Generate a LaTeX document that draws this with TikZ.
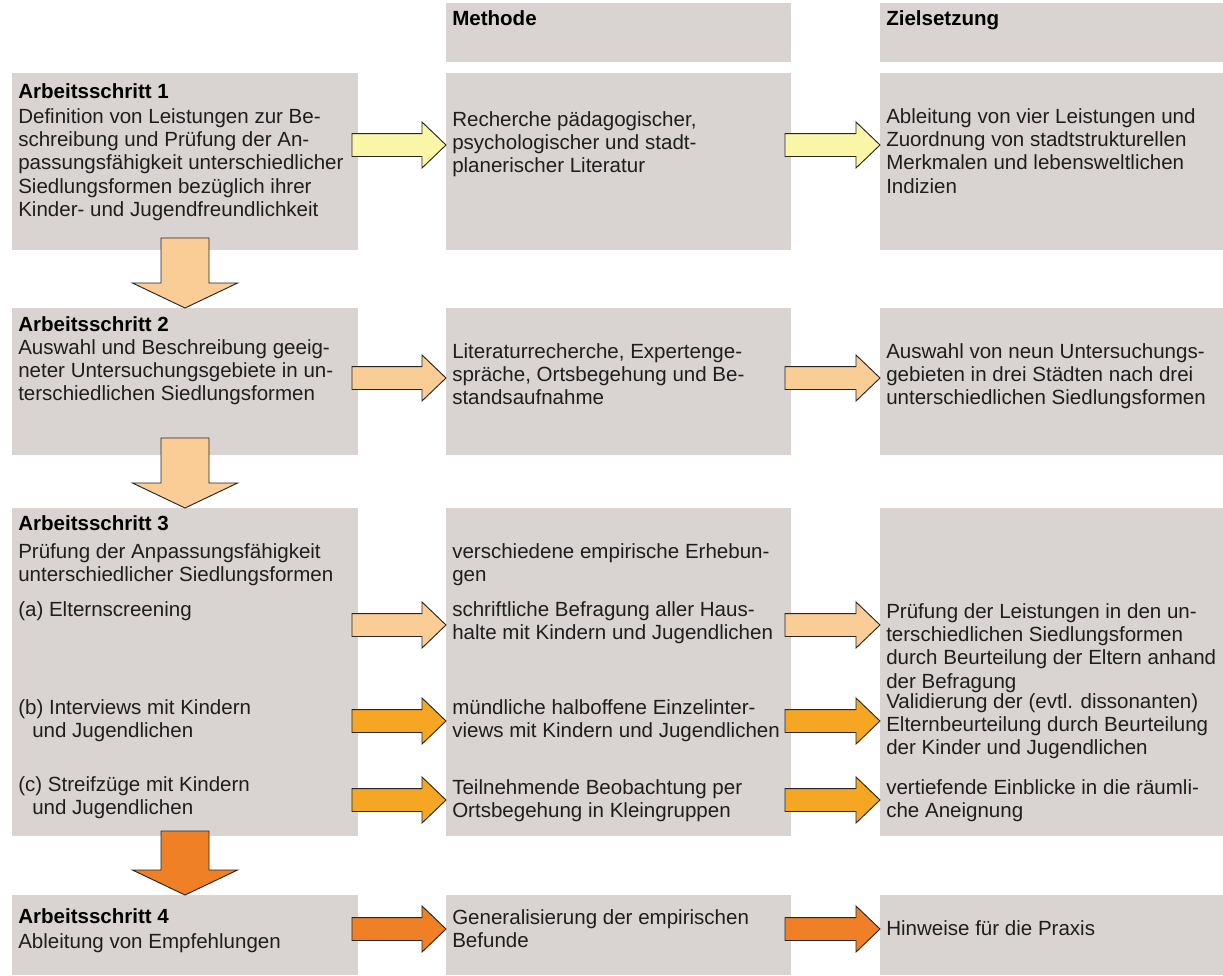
\documentclass[tikz,border=0pt]{standalone}
\usepackage{fontspec}
\setmainfont{Liberation Sans}
\usetikzlibrary{calc}
\definecolor{boxgray}{RGB}{217,212,209}
\definecolor{aryellow}{RGB}{250,246,168}
\definecolor{arpeach}{RGB}{250,204,150}
\definecolor{arorange}{RGB}{245,166,35}
\definecolor{ardark}{RGB}{240,128,38}
\definecolor{txt}{RGB}{30,30,30}
\newcommand\fst{\rule{0pt}{14pt}}
% horizontal block arrow: fill, from node, to node, y-reference coordinate
\newcommand\hblk[4]{%
  \path[blkarrow,fill=#1] let \p1=(#2.east), \p2=(#3.west), \p3=(#4) in
    (\x1-4.5pt,\y3-8.6pt) -- (\x2-18pt,\y3-8.6pt) -- (\x2-18pt,\y3-17.25pt) --
    (\x2,\y3) -- (\x2-18pt,\y3+17.25pt) -- (\x2-18pt,\y3+8.6pt) --
    (\x1-4.5pt,\y3+8.6pt) -- cycle;}
% vertical block arrow: fill, from node, to node, overlap into the upper box
\newcommand\vblk[4]{%
  \path[blkarrow,fill=#1] let \p1=(#2.south), \p2=(#3.north) in
    (\x2-18pt,\y1+#4) -- (\x2-18pt,\y2+18.75pt) -- (\x2-39.4pt,\y2+18.75pt) --
    (\x2,\y2) -- (\x2+39.4pt,\y2+18.75pt) -- (\x2+18pt,\y2+18.75pt) --
    (\x2+18pt,\y1+#4) -- cycle;}
\begin{document}
\begin{tikzpicture}[x=0.75pt,y=-0.75pt,
  box/.style={fill=boxgray,draw=none,inner sep=0pt,outer sep=0pt,anchor=north west},
  c1/.style={box,minimum width=259.5pt},
  c2/.style={box,minimum width=258.75pt},
  c3/.style={box,minimum width=257.25pt},
  txtnode/.style={anchor=north west,inner sep=0pt,align=left,text=txt,
    font=\fontsize{15.4pt}{17.4pt}\selectfont},
  ttl/.style={anchor=north west,inner sep=0pt,align=left,text=black,
    font=\fontsize{15.4pt}{17.4pt}\selectfont\bfseries},
  blkarrow/.style={draw=black!85,line width=0.7pt,line join=miter}]
\useasboundingbox (0,0) rectangle (1223,975);
% ---------- boxes ----------
\node[c2,minimum height=44.25pt] (h2) at (446,3) {};
\node[c3,minimum height=44.25pt] (h3) at (880,3) {};
\node[c1,minimum height=132.75pt] (b11) at (12,73) {};
\node[c2,minimum height=132.75pt] (b12) at (446,73) {};
\node[c3,minimum height=132.75pt] (b13) at (880,73) {};
\node[c1,minimum height=110.25pt] (b21) at (12,308) {};
\node[c2,minimum height=110.25pt] (b22) at (446,308) {};
\node[c3,minimum height=110.25pt] (b23) at (880,308) {};
\node[c1,minimum height=246pt] (b31) at (12,508) {};
\node[c2,minimum height=246pt] (b32) at (446,508) {};
\node[c3,minimum height=246pt] (b33) at (880,508) {};
\node[c1,minimum height=60pt] (b41) at (12,895) {};
\node[c2,minimum height=60pt] (b42) at (446,895) {};
\node[c3,minimum height=60pt] (b43) at (880,895) {};
% ---------- arrow reference heights ----------
\coordinate (ya) at (0,145);
\coordinate (yb) at (0,378);
\coordinate (yc) at (0,625);
\coordinate (yd) at (0,721);
\coordinate (ye) at (0,800);
\coordinate (yf) at (0,929);
% ---------- arrows ----------
\vblk{arpeach}{b11}{b21}{9pt}
\vblk{arpeach}{b21}{b31}{12.75pt}
\vblk{ardark}{b31}{b41}{3.75pt}
\hblk{aryellow}{b11}{b12}{ya}
\hblk{aryellow}{b12}{b13}{ya}
\hblk{arpeach}{b21}{b22}{yb}
\hblk{arpeach}{b22}{b23}{yb}
\hblk{arpeach}{b31}{b32}{yc}
\hblk{arpeach}{b32}{b33}{yc}
\hblk{arorange}{b31}{b32}{yd}
\hblk{arorange}{b32}{b33}{yd}
\hblk{arorange}{b31}{b32}{ye}
\hblk{arorange}{b32}{b33}{ye}
\hblk{ardark}{b41}{b42}{yf}
\hblk{ardark}{b42}{b43}{yf}
% ---------- header texts ----------
\node[ttl] (th2) at (452,6.5) {\fst Methode};
\node[ttl] (th3) at (886,6.5) {\fst Zielsetzung};
% ---------- column 1 ----------
\node[ttl] (t11) at (18,79.5) {\fst Arbeitsschritt 1};
\node[txtnode] (x11) at (18,104.5) {\fst Definition von Leistungen zur Be-\\schreibung und Prüfung der An-\\passungsfähigkeit unterschiedlicher\\Siedlungsformen bezüglich ihrer\\Kinder- und Jugendfreundlichkeit};
\node[ttl] (t21) at (18,312.5) {\fst Arbeitsschritt 2};
\node[txtnode] (x21) at (18,335.5) {\fst Auswahl und Beschreibung geeig-\\neter Untersuchungsgebiete in un-\\terschiedlichen Siedlungsformen};
\node[ttl] (t31) at (18,512) {\fst Arbeitsschritt 3};
\node[txtnode] (x31) at (18,539.5) {\fst Prüfung der Anpassungsfähigkeit\\unterschiedlicher Siedlungsformen};
\node[txtnode] (x31a) at (18,597.5) {\fst (a) Elternscreening};
\node[txtnode] (x31b) at (18,695.5) {\fst (b) Interviews mit Kindern\\\hspace*{10.5pt}und Jugendlichen};
\node[txtnode] (x31c) at (18,772.5) {\fst (c) Streifzüge mit Kindern\\\hspace*{10.5pt}und Jugendlichen};
\node[ttl] (t41) at (18,904.5) {\fst Arbeitsschritt 4};
\node[txtnode] (x41) at (18,929.5) {\fst Ableitung von Empfehlungen};
% ---------- column 2 ----------
\node[txtnode] (x12) at (452,107.5) {\fst Recherche pädagogischer,\\psychologischer und stadt-\\planerischer Literatur};
\node[txtnode] (x22) at (452,339.5) {\fst Literaturrecherche, Expertenge-\\spräche, Ortsbegehung und Be-\\standsaufnahme};
\node[txtnode] (x32) at (452,539.5) {\fst verschiedene empirische Erhebun-\\gen};
\node[txtnode] (x32a) at (452,597.5) {\fst schriftliche Befragung aller Haus-\\halte mit Kindern und Jugendlichen};
\node[txtnode] (x32b) at (452,695.5) {\fst mündliche halboffene Einzelinter-\\views mit Kindern und Jugendlichen};
\node[txtnode] (x32c) at (452,775.5) {\fst Teilnehmende Beobachtung per\\Ortsbegehung in Kleingruppen};
\node[txtnode] (x42) at (452,905.5) {\fst Generalisierung der empirischen\\Befunde};
% ---------- column 3 ----------
\node[txtnode] (x13) at (886,104.5) {\fst Ableitung von vier Leistungen und\\Zuordnung von stadtstrukturellen\\Merkmalen und lebensweltlichen\\Indizien};
\node[txtnode] (x23) at (886,339.5) {\fst Auswahl von neun Untersuchungs-\\gebieten in drei Städten nach drei\\unterschiedlichen Siedlungsformen};
\node[txtnode] (x33a) at (886,599.5) {\fst Prüfung der Leistungen in den un-\\terschiedlichen Siedlungsformen\\durch Beurteilung der Eltern anhand\\der Befragung};
\node[txtnode] (x33b) at (886,689.5) {\fst Validierung der (evtl. dissonanten)\\Elternbeurteilung durch Beurteilung\\der Kinder und Jugendlichen};
\node[txtnode] (x33c) at (886,775.5) {\fst vertiefende Einblicke in die räumli-\\che Aneignung};
\node[txtnode] (x43) at (886,916.5) {\fst Hinweise für die Praxis};
\end{tikzpicture}
\end{document}
